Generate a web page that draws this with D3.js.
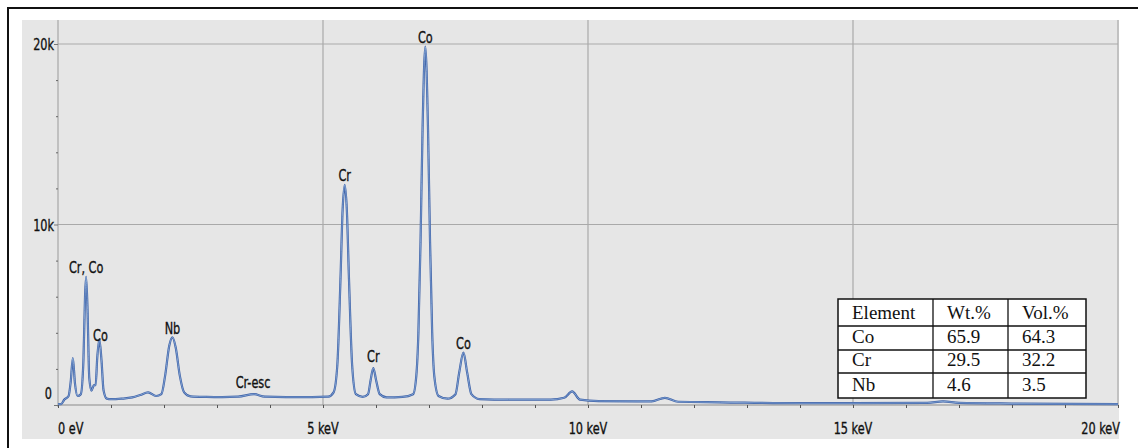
<!DOCTYPE html>
<html>
<head>
<meta charset="utf-8">
<script src="https://cdn.jsdelivr.net/npm/d3@7/dist/d3.min.js"></script>
<style>
  html, body { margin: 0; padding: 0; background: #ffffff; }
  svg { display: block; }
  .lbl { font-family: "DejaVu Sans Condensed", "Liberation Sans Narrow", "Roboto", sans-serif; font-size: 16.5px; fill: #111; stroke: #111; stroke-width: 0.35px; }
  .tbl { font-family: "Liberation Serif", "DejaVu Serif", serif; font-size: 19px; fill: #111; }
</style>
</head>
<body>
<svg id="chart" width="1138" height="448"></svg>
<script>
// ---- data ----
const spectrumKeV = [0.00, 0.06, 0.12, 0.20, 0.24, 0.28, 0.32, 0.37, 0.43, 0.48, 0.51, 0.53, 0.555, 0.59, 0.63, 0.68, 0.71, 0.74, 0.78, 0.82, 0.86, 0.92,
  1.00, 1.20, 1.40, 1.55, 1.70, 1.85, 1.95, 2.02, 2.10, 2.16, 2.22, 2.30, 2.38, 2.50, 2.80, 3.10, 3.40, 3.70, 3.90, 4.30, 4.80, 5.10,
  5.20, 5.27, 5.33, 5.37, 5.41, 5.45, 5.49, 5.55, 5.62, 5.75, 5.85, 5.90, 5.95, 6.00, 6.07, 6.20, 6.50, 6.70, 6.76, 6.80, 6.84, 6.88,
  6.93, 6.98, 7.02, 7.06, 7.10, 7.18, 7.35, 7.50, 7.57, 7.65, 7.72, 7.80, 7.95, 8.50, 9.30, 9.55, 9.70, 9.85, 10.20, 11.20, 11.45,
  11.70, 12.50, 14.00, 15.00, 16.40, 16.70, 17.00, 18.00, 20.00];
const spectrumKCounts = [0.05, 0.05, 0.30, 0.50, 1.30, 2.60, 1.20, 0.50, 0.60, 2.50, 6.00, 7.10, 5.50, 1.50, 0.80, 1.10, 1.10, 2.60, 3.65, 2.50, 0.80, 0.35,
  0.32, 0.35, 0.42, 0.55, 0.70, 0.50, 0.60, 1.60, 3.30, 3.75, 3.20, 1.60, 0.70, 0.48, 0.45, 0.44, 0.46, 0.60, 0.46, 0.44, 0.44, 0.46,
  0.70, 2.20, 7.00, 10.80, 12.20, 10.80, 7.00, 2.20, 0.60, 0.45, 0.60, 1.40, 2.05, 1.40, 0.60, 0.42, 0.45, 0.60, 1.60, 4.00, 9.00, 15.50,
  19.85, 15.50, 9.00, 4.00, 1.60, 0.50, 0.35, 0.60, 1.80, 2.90, 1.80, 0.60, 0.33, 0.30, 0.30, 0.40, 0.75, 0.30, 0.22, 0.20, 0.40,
  0.18, 0.15, 0.10, 0.10, 0.12, 0.20, 0.12, 0.08, 0.05];

const peakLabels   = ["Co", "Cr", "Cr", "Co", "Nb", "Co", "Cr, Co", "Cr-esc"];
const peakLabelKeV = [6.93, 5.41, 5.95, 7.65, 2.16, 0.80, 0.53, 3.68];
const peakLabelK   = [20.03, 12.4, 2.38, 3.10, 3.93, 3.54, 7.30, 0.94];

const xTickValues = [0, 5, 10, 15, 20];
const xTickLabels = ["0 eV", "5 keV", "10 keV", "15 keV", "20 keV"];
const yTickValues = [0, 10, 20];
const yTickLabels = ["0", "10k", "20k"];

const tableHeader   = ["Element", "Wt.%", "Vol.%"];
const tableElements = ["Co", "Cr", "Nb"];
const tableWt       = ["65.9", "29.5", "4.6"];
const tableVol      = ["64.3", "32.2", "3.5"];

// ---- drawing ----
const svg = d3.select("#chart");
const x = d3.scaleLinear().domain([0, 20]).range([58, 1118]);
const y = d3.scaleLinear().domain([0, 20]).range([405, 44]);
const SX = 0.76; // horizontal condensing of the label font

function label(g, tx, ty, text, anchor) {
  g.append("text").attr("class", "lbl")
    .attr("transform", `translate(${tx},${ty}) scale(${SX},1)`)
    .attr("text-anchor", anchor)
    .text(text);
}

// outer frame
svg.append("rect").attr("x", 0).attr("y", 0).attr("width", 1138).attr("height", 448).attr("fill", "#fff");
svg.append("path").attr("d", "M8,449 L8,8 L1138,8").attr("fill", "none").attr("stroke", "#111").attr("stroke-width", 2);

// plot background
svg.append("rect").attr("x", 22).attr("y", 20).attr("width", 1097).attr("height", 419).attr("fill", "#e6e6e6");

// grid
const gridColor = "#a9a9a9";
svg.append("g").selectAll("line").data([5, 10, 15, 20]).join("line")
  .attr("x1", d => x(d)).attr("x2", d => x(d)).attr("y1", 20).attr("y2", y(0))
  .attr("stroke", gridColor).attr("stroke-width", 1.2);
svg.append("g").selectAll("line").data([10, 20]).join("line")
  .attr("x1", x(0)).attr("x2", x(20)).attr("y1", d => y(d)).attr("y2", d => y(d))
  .attr("stroke", gridColor).attr("stroke-width", 1.2);

// y axis
const yAxis = d3.axisLeft(y).tickValues(d3.range(0, 21, 2)).tickSize(2).tickFormat("");
const gy = svg.append("g").attr("transform", `translate(${x(0)},0)`).call(yAxis);
gy.select(".domain").attr("stroke", "#9a9a9a").attr("d", `M0,20 L0,${y(0) + 2}`);
gy.selectAll(".tick line").attr("stroke", "#666");
gy.selectAll(".tick").filter(d => yTickValues.includes(d)).select("line").attr("x2", -4).attr("stroke", "#777");
const gyl = svg.append("g");
yTickValues.forEach((d, i) => label(gyl, i === 0 ? 52 : 54, i === 0 ? y(d) - 6 : y(d) + 6, yTickLabels[i], "end"));

// x axis
const xAxis = d3.axisBottom(x).tickValues(d3.range(0, 21, 1)).tickSize(3).tickFormat("");
const gx = svg.append("g").attr("transform", `translate(0,${y(0)})`).call(xAxis);
gx.select(".domain").attr("stroke", "#8a8a8a").attr("d", `M${x(0)},0 L${x(20)},0`);
gx.selectAll(".tick line").attr("stroke", "#555");
const gxl = svg.append("g");
xTickValues.forEach((d, i) => label(gxl, i === xTickValues.length - 1 ? x(d) + 2 : x(d), 434,
  xTickLabels[i], i === 0 ? "start" : (i === xTickValues.length - 1 ? "end" : "middle")));

// spectrum
const pts = spectrumKeV.map((e, i) => [e, spectrumKCounts[i]]);
const line = d3.line().x(d => x(d[0])).y(d => y(d[1])).curve(d3.curveMonotoneX);
svg.append("path").datum(pts).attr("d", line).attr("fill", "none")
  .attr("stroke", "#3b5fa6").attr("stroke-width", 2.2).attr("stroke-linejoin", "round");
svg.append("path").datum(pts).attr("d", line).attr("fill", "none")
  .attr("stroke", "#9cbbe3").attr("stroke-width", 0.7);

// peak labels
const gpl = svg.append("g");
peakLabels.forEach((d, i) => label(gpl, x(peakLabelKeV[i]), y(peakLabelK[i]), d, "middle"));

// table
const colX = [838, 933, 1008, 1086];
const rowY = [299, 326, 350, 373, 398];
const tg = svg.append("g");
tg.append("rect").attr("x", colX[0]).attr("y", rowY[0]).attr("width", colX[3] - colX[0]).attr("height", rowY[4] - rowY[0])
  .attr("fill", "#fff").attr("stroke", "#111").attr("stroke-width", 1.5);
tg.selectAll("line.r").data(rowY.slice(1, 4)).join("line").attr("class", "r")
  .attr("x1", colX[0]).attr("x2", colX[3]).attr("y1", d => d).attr("y2", d => d)
  .attr("stroke", "#111").attr("stroke-width", 1.3);
tg.selectAll("line.c").data(colX.slice(1, 3)).join("line").attr("class", "c")
  .attr("x1", d => d).attr("x2", d => d).attr("y1", rowY[0]).attr("y2", rowY[4])
  .attr("stroke", "#111").attr("stroke-width", 1.3);
const rows = [tableHeader].concat(tableElements.map((e, i) => [e, tableWt[i], tableVol[i]]));
rows.forEach((r, ri) => {
  r.forEach((c, ci) => {
    tg.append("text").attr("class", "tbl")
      .attr("x", colX[ci] + 14)
      .attr("y", rowY[ri + 1] - 7)
      .text(c);
  });
});
</script>
</body>
</html>
